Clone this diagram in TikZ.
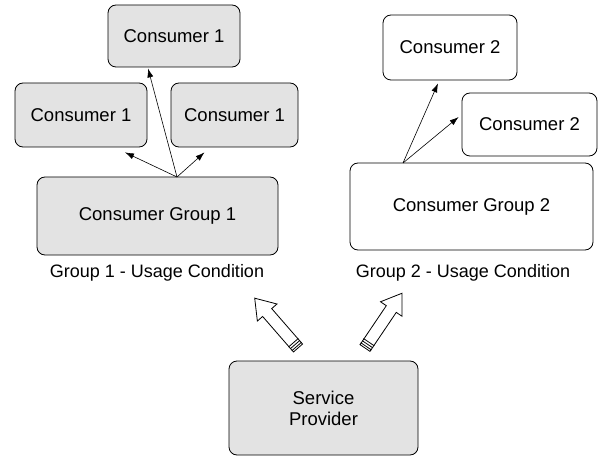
\documentclass[tikz,border=0pt]{standalone}
\usepackage{fontspec}
\setmainfont{Liberation Sans}
\usetikzlibrary{arrows.meta}

\tikzset{
  box/.style = {draw, thick, rounded corners = 8pt, inner sep = 2pt, font = \fontsize{18.5}{21}\selectfont},
  shaded/.style = {box, fill = gray!22},
  plain/.style = {box, fill = white},
  link/.style = {semithick, -{Latex[length = 9pt, width = 6pt]}},
  bigarrow/.pic = {
    \draw [thick, fill = white] (0, -6) -- (47, -6) -- (47, -13) -- (66, 0)
      -- (47, 13) -- (47, 6) -- (0, 6) -- cycle;
    \foreach \t in {2, 4.5, 7}
      \draw [thick] (\t, -6.5) -- (\t, 6.5);
  }
}

\begin{document}
\begin{tikzpicture}[x = 1pt, y = -1pt, font = \fontsize{18}{21}\selectfont]
\useasboundingbox (0, 0) rectangle (602, 457);
%\draw [very thin, color = gray](0, 0) grid [step = 50] (602, 457);

% group 1
\node [shaded, minimum width = 132pt, minimum height = 62pt] (cons1top) at (174, 36) {Consumer 1};
\node [shaded, minimum width = 132pt, minimum height = 64pt] (cons1left) at (81, 115) {Consumer 1};
\node [shaded, minimum width = 127pt, minimum height = 64pt] (cons1right) at (234.5, 115) {Consumer 1};
\node [shaded, minimum width = 241pt, minimum height = 78pt] (group1) at (157.5, 216) {Consumer Group 1};
\node (cond1) at (157, 273) {Group 1 - Usage Condition};
\coordinate (src1) at (177, 177);
\draw [link] (src1) to ([xshift = -26pt, yshift = -1pt] cons1top.south);
\draw [link] (src1) to ([xshift = 44pt, yshift = -5pt] cons1left.south);
\draw [link] (src1) to ([xshift = -30pt, yshift = -5pt] cons1right.south);

% group 2
\node [plain, minimum width = 134pt, minimum height = 65pt] (cons2top) at (450, 47.5) {Consumer 2};
\node [plain, minimum width = 135pt, minimum height = 63pt] (cons2right) at (529.5, 124.5) {Consumer 2};
\node [plain, minimum width = 243pt, minimum height = 87pt] (group2) at (471.5, 206.5) {Consumer Group 2};
\node (cond2) at (463, 273) {Group 2 - Usage Condition};
\coordinate (src2) at (403, 163);
\draw [link] (src2) to ([xshift = -12pt, yshift = -3pt] cons2top.south);
\draw [link] (src2) to ([xshift = -3pt, yshift = 7.5pt] cons2right.west);

% provider
\node [shaded, minimum width = 189pt, minimum height = 94pt, align = center] (provider) at (323.5, 408) {Service\\Provider};
\pic [rotate = 131] at (298, 348) {bigarrow};
\pic [rotate = 56] at (365, 348) {bigarrow};
\end{tikzpicture}
\end{document}
